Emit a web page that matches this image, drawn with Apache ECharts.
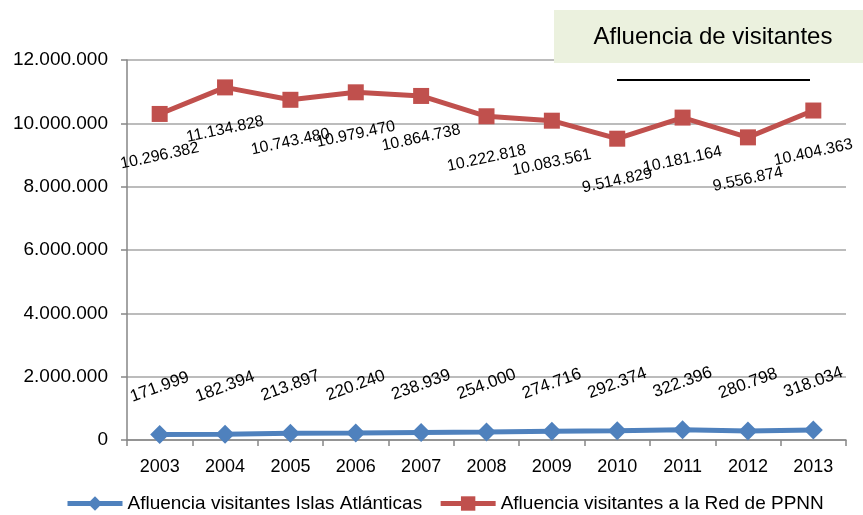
<!DOCTYPE html>
<html>
<head>
<meta charset="utf-8">
<script src="https://cdn.jsdelivr.net/npm/echarts@6/dist/echarts.min.js"></script>
<style>
html,body{margin:0;padding:0;background:#fff;}
#chart{width:863px;height:515px;}
</style>
</head>
<body>
<div id="chart"></div>
<script>
const years = ['2003','2004','2005','2006','2007','2008','2009','2010','2011','2012','2013'];
const islasAtlanticas = [171999, 182394, 213897, 220240, 238939, 254000, 274716, 292374, 322396, 280798, 318034];
const redPPNN = [10296382, 11134828, 10743480, 10979470, 10864738, 10222818, 10083561, 9514829, 10181164, 9556874, 10404363];
const seriesNames = ['Afluencia visitantes Islas Atlánticas', 'Afluencia visitantes a la Red de PPNN'];
const titleText = 'Afluencia de visitantes';

const FONT = '"Liberation Sans", Arial, sans-serif';
function fmt(v){ return String(v).replace(/\B(?=(\d{3})+(?!\d))/g, '.'); }

const chart = echarts.init(document.getElementById('chart'), null, {renderer:'canvas'});
chart.setOption({
  animation: false,
  textStyle: {fontFamily: FONT},
  grid: {left:127, right:17, top:60, bottom:75, containLabel:false},
  legend: {
    data: seriesNames,
    left: 65, top: 494, padding: 0,
    itemWidth: 55, itemHeight: 18, itemGap: 16,
    lineStyle: {width: 5},
    textStyle: {fontFamily: FONT, fontSize: 19, color: '#000'}
  },
  xAxis: {
    type: 'category',
    data: years,
    boundaryGap: true,
    axisLine: {lineStyle: {color:'#868686', width:1.5}},
    axisTick: {show:true, length:6, lineStyle:{color:'#868686', width:1.5}},
    axisLabel: {color:'#000', fontSize:18, fontFamily:FONT, margin:18}
  },
  yAxis: {
    type: 'value',
    min: 0, max: 12000000, interval: 2000000,
    axisLine: {show:true, lineStyle: {color:'#868686', width:1.5}},
    axisTick: {show:true, length:6, lineStyle:{color:'#868686', width:1.5}},
    splitLine: {lineStyle: {color:'#A6A6A6', width:1.5}},
    axisLabel: {color:'#000', fontSize:19, fontFamily:FONT, margin:19, formatter: v => fmt(v)}
  },
  graphic: [
    {type:'rect', z:100, shape:{x:554, y:10, width:320, height:53}, style:{fill:'#EBF1DE'}},
    {type:'text', z:101, x:713, y:37, style:{text:titleText, fontFamily:FONT, fontSize:24, fill:'#000', align:'center', verticalAlign:'middle'}},
    {type:'line', z:101, shape:{x1:617, y1:80, x2:810, y2:80}, style:{stroke:'#000', lineWidth:2}}
  ],
  series: [
    {
      name: seriesNames[0],
      type: 'line',
      data: islasAtlanticas,
      symbol: 'diamond',
      symbolSize: 19,
      itemStyle: {color:'#4F81BD'},
      lineStyle: {color:'#4F81BD', width:5},
      label: {
        show: true, position: 'top', distance: 38, rotate: 20,
        align: 'center', verticalAlign: 'middle',
        color: '#000', fontSize: 17, fontFamily: FONT,
        formatter: p => fmt(p.value)
      },
      z: 3
    },
    {
      name: seriesNames[1],
      type: 'line',
      data: redPPNN,
      symbol: 'rect',
      symbolSize: 16,
      itemStyle: {color:'#C0504D'},
      lineStyle: {color:'#C0504D', width:5},
      label: {
        show: true, position: 'bottom', distance: 34, rotate: 12,
        align: 'center', verticalAlign: 'middle',
        color: '#000', fontSize: 16, fontFamily: FONT,
        formatter: p => fmt(p.value)
      },
      z: 3
    }
  ]
});
</script>
</body>
</html>
